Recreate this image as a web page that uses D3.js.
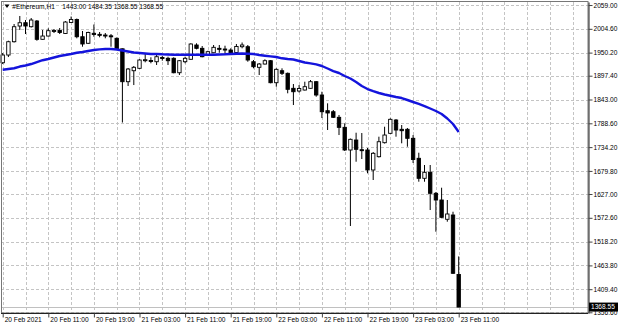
<!DOCTYPE html>
<html><head><meta charset="utf-8">
<script src="https://cdn.jsdelivr.net/npm/d3@7"></script>
<style>
html,body{margin:0;padding:0;background:#fff;}
svg{display:block;}
text{font-family:"Liberation Sans",Arial,sans-serif;font-size:6.6px;fill:#000;}
</style></head>
<body><svg id="c" width="620" height="327"></svg>
<script>
// ---- data ----
const symbolTitle = "#Ethereum,H1";
const lastOHLC = "1443.00 1484.35 1368.55 1368.55";
const xLabels = ["20 Feb 2021","20 Feb 11:00","20 Feb 19:00","21 Feb 03:00","21 Feb 11:00","21 Feb 19:00","22 Feb 03:00","22 Feb 11:00","22 Feb 19:00","23 Feb 03:00","23 Feb 11:00"];
const xLabelBars = [0,8,16,24,32,40,48,56,64,72,80];
const yTicks = [2059.00,2004.60,1950.20,1897.40,1843.00,1788.60,1734.20,1679.80,1627.00,1572.60,1518.20,1463.80,1409.40,1356.60];
const lastPrice = 1368.55;

const open = [1927.1,1944.7,1975.1,2011.0,2018.5,2009.4,2022.4,1980.6,1988.1,1999.6,2000.7,1993.9,2019.0,2025.9,1986.5,1971.5,1994.3,1992.0,1990.4,1988.6,1982.9,1958.9,1883.7,1908.8,1914.3,1932.6,1932.1,1929.4,1939.0,1937.2,1937.2,1904.2,1929.4,1934.9,1967.6,1960.0,1944.7,1949.9,1960.0,1958.4,1956.1,1950.4,1963.7,1963.7,1929.4,1916.6,1924.1,1931.7,1881.4,1908.8,1902.9,1868.6,1862.4,1864.7,1868.6,1883.7,1853.3,1817.4,1815.1,1802.3,1779.4,1727.6,1750.4,1728.3,1727.6,1681.9,1712.3,1744.3,1765.7,1796.1,1774.9,1774.9,1754.3,1708.6,1662.9,1676.6,1628.6,1613.3,1569.2,1579.0,1443.00];
const high = [1949.3,1977.4,2015.6,2033.9,2024.7,2029.3,2024.7,2001.9,2005.7,2004.1,2006.4,2022.4,2032.7,2028.1,1999.6,1998.0,2014.4,1997.3,1995.0,1992.7,1984.7,1959.6,1915.0,1919.6,1934.9,1948.6,1939.5,1944.7,1942.4,1940.8,1939.5,1933.3,1940.8,1971.5,1971.5,1965.3,1954.5,1967.6,1967.6,1966.0,1960.0,1969.9,1973.3,1967.6,1933.3,1926.4,1934.9,1933.3,1914.3,1914.3,1904.7,1878.4,1876.1,1883.7,1887.6,1885.3,1860.8,1834.3,1819.0,1807.6,1788.6,1753.8,1767.1,1766.4,1732.2,1723.0,1758.0,1780.8,1800.0,1798.4,1784.7,1777.9,1761.8,1721.4,1693.3,1693.3,1631.6,1641.4,1613.3,1586.5,1484.35];
const low = [1924.1,1940.1,1973.3,2001.9,1992.7,2007.6,1977.4,1980.1,1987.0,1995.0,1992.7,1992.7,2017.9,1982.9,1963.7,1969.9,1986.5,1985.2,1982.9,1963.7,1957.3,1790.4,1873.9,1876.1,1912.7,1928.0,1925.8,1921.9,1931.7,1921.9,1902.9,1899.0,1925.8,1934.4,1957.7,1939.5,1942.4,1949.3,1949.9,1947.0,1948.6,1947.0,1960.0,1929.4,1914.3,1899.0,1923.0,1880.0,1872.3,1899.0,1857.2,1830.4,1859.0,1863.6,1868.1,1849.4,1800.7,1773.3,1800.7,1761.8,1725.3,1553.9,1700.8,1707.0,1674.3,1659.0,1710.4,1742.4,1764.1,1758.0,1742.9,1735.1,1697.9,1655.1,1655.1,1590.4,1540.8,1572.1,1563.7,1444.2,1368.55];
const close = [1944.7,1975.1,2009.4,2018.5,2011.0,2024.7,1980.6,1988.1,2000.3,2000.7,1996.1,2020.1,2025.9,1986.5,1969.9,1996.1,1991.6,1990.9,1989.3,1987.5,1958.9,1883.7,1912.7,1916.6,1933.3,1934.0,1931.0,1940.8,1937.9,1931.7,1904.2,1931.7,1937.2,1969.9,1960.0,1940.8,1952.3,1962.3,1957.7,1956.1,1949.9,1964.1,1967.6,1933.3,1918.0,1924.1,1931.7,1881.4,1912.0,1902.9,1866.3,1860.8,1868.1,1872.3,1883.7,1853.3,1815.1,1812.2,1802.3,1779.4,1727.6,1752.0,1729.2,1726.9,1681.9,1720.0,1746.5,1761.8,1797.7,1773.3,1771.7,1754.3,1705.9,1662.9,1676.6,1628.6,1613.3,1573.7,1581.3,1445.8,1368.55];
const maValues = [1911.1,1912.7,1914.5,1918.4,1920.7,1924.1,1928.7,1932.8,1935.6,1939.0,1942.4,1944.7,1947.0,1949.8,1951.6,1953.9,1956.1,1957.7,1958.4,1958.4,1957.3,1955.0,1952.7,1950.4,1949.3,1948.1,1947.0,1947.0,1946.3,1945.9,1945.4,1945.4,1945.4,1945.4,1945.4,1945.4,1945.4,1945.4,1945.9,1946.3,1947.0,1947.7,1948.1,1947.7,1947.0,1944.7,1943.1,1941.7,1940.1,1937.2,1935.6,1934.4,1931.0,1927.6,1925.7,1923.4,1919.6,1913.9,1908.1,1903.6,1896.7,1891.0,1883.0,1873.9,1867.0,1862.0,1857.9,1854.4,1851.5,1848.7,1846.4,1841.9,1837.3,1833.2,1828.1,1822.4,1816.7,1809.8,1799.6,1787.0,1768.7];

// ---- layout ----
const L = 1, R = 588, T = 2, B = 313;
const svg = d3.select("#c");
const x = d3.scaleLinear().domain([0, 80]).range([2.7, 458.7]);
const y = d3.scaleLinear().domain([1355.0, 2065.9]).range([B, T]);
const bars = d3.range(open.length);
const gridBars = d3.range(0, 101, 4);

svg.append("rect").attr("width",620).attr("height",327).attr("fill","#fff");

// grid
const grid = svg.append("g").attr("stroke","#c4c4c4").attr("stroke-width",1).attr("stroke-dasharray","3,2").attr("shape-rendering","crispEdges");
grid.selectAll("line.v").data(gridBars).join("line").attr("class","v")
  .attr("x1",d=>Math.round(x(d))+0.5).attr("x2",d=>Math.round(x(d))+0.5).attr("y1",T).attr("y2",B);
grid.selectAll("line.h").data(yTicks).join("line").attr("class","h")
  .attr("x1",L).attr("x2",R).attr("y1",d=>Math.round(y(d))+0.5).attr("y2",d=>Math.round(y(d))+0.5);

// bid line
svg.append("line").attr("x1",L).attr("x2",R).attr("y1",Math.round(y(lastPrice))+0.5).attr("y2",Math.round(y(lastPrice))+0.5)
  .attr("stroke","#c0c0c0").attr("stroke-width",1);

// candles
const bw = 3.4;
const cg = svg.append("g");
cg.selectAll("line.wick").data(bars).join("line").attr("class","wick")
  .attr("x1",i=>x(i)).attr("x2",i=>x(i)).attr("y1",i=>y(high[i])).attr("y2",i=>y(low[i]))
  .attr("stroke","#000").attr("stroke-width",1);
cg.selectAll("rect.body").data(bars).join("rect").attr("class","body")
  .attr("x",i=>x(i)-bw/2)
  .attr("y",i=>y(Math.max(open[i],close[i])))
  .attr("width",bw)
  .attr("height",i=>Math.max(1, Math.abs(y(open[i])-y(close[i]))))
  .attr("fill",i=>close[i]>=open[i]?"#fff":"#000")
  .attr("stroke","#000").attr("stroke-width",0.9);

// moving average
svg.append("path").datum(bars)
  .attr("d", d3.line().x(i=>x(i)).y(i=>y(maValues[i])))
  .attr("fill","none").attr("stroke","#1414dc").attr("stroke-width",2.4).attr("stroke-linejoin","round");

// frame
svg.append("rect").attr("x",L+0.5).attr("y",T-0.5).attr("width",R-L-0.5).attr("height",B-T+0.5)
  .attr("fill","none").attr("stroke","#777").attr("stroke-width",1);

// right axis
const yAxis = d3.axisRight(y).tickValues(yTicks).tickSize(4).tickSizeOuter(0).tickPadding(1).tickFormat(d3.format(".2f"));
const ya = svg.append("g").attr("transform",`translate(${R+0.5},0)`).call(yAxis);
ya.select(".domain").attr("stroke","#222");
ya.selectAll(".tick line").attr("stroke","#444");
ya.selectAll("text").attr("font-family",null).attr("font-size",null).attr("fill","#000");

// bottom axis
const xAxis = d3.axisBottom(x).tickValues(xLabelBars).tickSize(4).tickSizeOuter(0).tickPadding(1)
  .tickFormat((d,i)=>xLabels[i]);
const xa = svg.append("g").attr("transform",`translate(0,${B+0.5})`).call(xAxis);
xa.select(".domain").attr("d",`M${L},0H${R}`).attr("stroke","#222");
xa.selectAll(".tick line").attr("stroke","#444");
xa.selectAll("text").attr("font-family",null).attr("font-size",null).attr("fill","#000")
  .attr("text-anchor","start").attr("dx","1.5").attr("dy","0.55em");

// current price label
const py = y(lastPrice);
svg.append("rect").attr("x",R+1).attr("y",py-4.5).attr("width",29).attr("height",9).attr("fill","#000");
svg.append("text").attr("x",R+3).attr("y",py).attr("dy","0.35em").attr("fill","#fff").style("fill","#fff").text(d3.format(".2f")(lastPrice));

// title
svg.append("path").attr("d","M4.5,4.5L9.5,4.5L7,8Z").attr("fill","#000");
svg.append("text").attr("x",12.3).attr("y",9.3).text(symbolTitle);
svg.append("text").attr("x",62.3).attr("y",9.3).text(lastOHLC);
</script></body></html>
